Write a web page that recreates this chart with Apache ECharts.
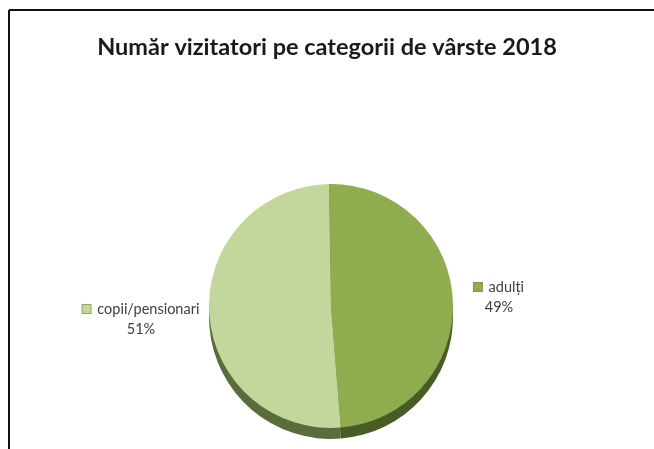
<!DOCTYPE html>
<html>
<head>
<meta charset="utf-8">
<script src="https://cdn.jsdelivr.net/npm/echarts@6/dist/echarts.min.js"></script>
<style>
html,body{margin:0;padding:0;background:#fff;}
#chart{width:654px;height:449px;}
</style>
</head>
<body>
<div id="chart"></div>
<script>
const titleText = 'Număr vizitatori pe categorii de vârste 2018';
const categories = ['adulți', 'copii/pensionari'];
const values = [49, 51];
const topColors = ['#8fad4f', '#c3d69b'];
const rimColors = ['#4a5c26', '#5a6b3c'];
const markerColors = ['#8fad4f', '#c3d69b'];

const labelPos = [
  { x: 499, y: 297 },
  { x: 141, y: 319 }
];

const chart = echarts.init(document.getElementById('chart'), null, { renderer: 'canvas' });

const font = 'Lato, "Open Sans", "DejaVu Sans", sans-serif';

chart.setOption({
  animation: false,
  backgroundColor: '#ffffff',
  title: {
    text: titleText,
    left: 'center',
    top: 30,
    textStyle: { fontFamily: font, fontSize: 23.5, fontWeight: 'bold', color: '#1a1a1a' }
  },
  graphic: [
    { type: 'line', shape: { x1: 9, y1: 10, x2: 654, y2: 10 }, style: { stroke: '#111', lineWidth: 2 } },
    { type: 'line', shape: { x1: 9, y1: 10, x2: 9, y2: 449 }, style: { stroke: '#111', lineWidth: 2 } }
  ],
  series: [
    {
      type: 'pie',
      z: 1,
      center: [331, 317],
      radius: 122,
      startAngle: 91,
      silent: true,
      label: { show: false },
      labelLine: { show: false },
      itemStyle: { borderWidth: 0 },
      data: categories.map((c, i) => ({ name: c, value: values[i], itemStyle: { color: rimColors[i] } }))
    },
    {
      type: 'pie',
      z: 2,
      center: [331, 306],
      radius: 122,
      startAngle: 91,
      itemStyle: { borderWidth: 0 },
      labelLine: { show: false },
      label: {
        show: true,
        position: 'outside',
        formatter: p => '{sq' + p.dataIndex + '|}  {name|' + p.name + '}\n{pct|' + p.percent.toFixed(0) + '%}',
        align: 'center',
        rich: {
          sq0: { width: 8, height: 8, backgroundColor: markerColors[0], borderColor: '#7d9a44', borderWidth: 1 },
          sq1: { width: 8, height: 8, backgroundColor: markerColors[1], borderColor: '#8faa6a', borderWidth: 1 },
          name: { fontFamily: font, fontSize: 14.5, color: '#404040', lineHeight: 20 },
          pct: { fontFamily: font, fontSize: 14.5, color: '#404040', lineHeight: 20, align: 'center' }
        }
      },
      labelLayout: function (params) {
        const p = labelPos[params.dataIndex];
        return { x: p.x, y: p.y, align: 'center', verticalAlign: 'middle' };
      },
      data: categories.map((c, i) => ({ name: c, value: values[i], itemStyle: { color: topColors[i] } }))
    }
  ]
});
</script>
</body>
</html>
